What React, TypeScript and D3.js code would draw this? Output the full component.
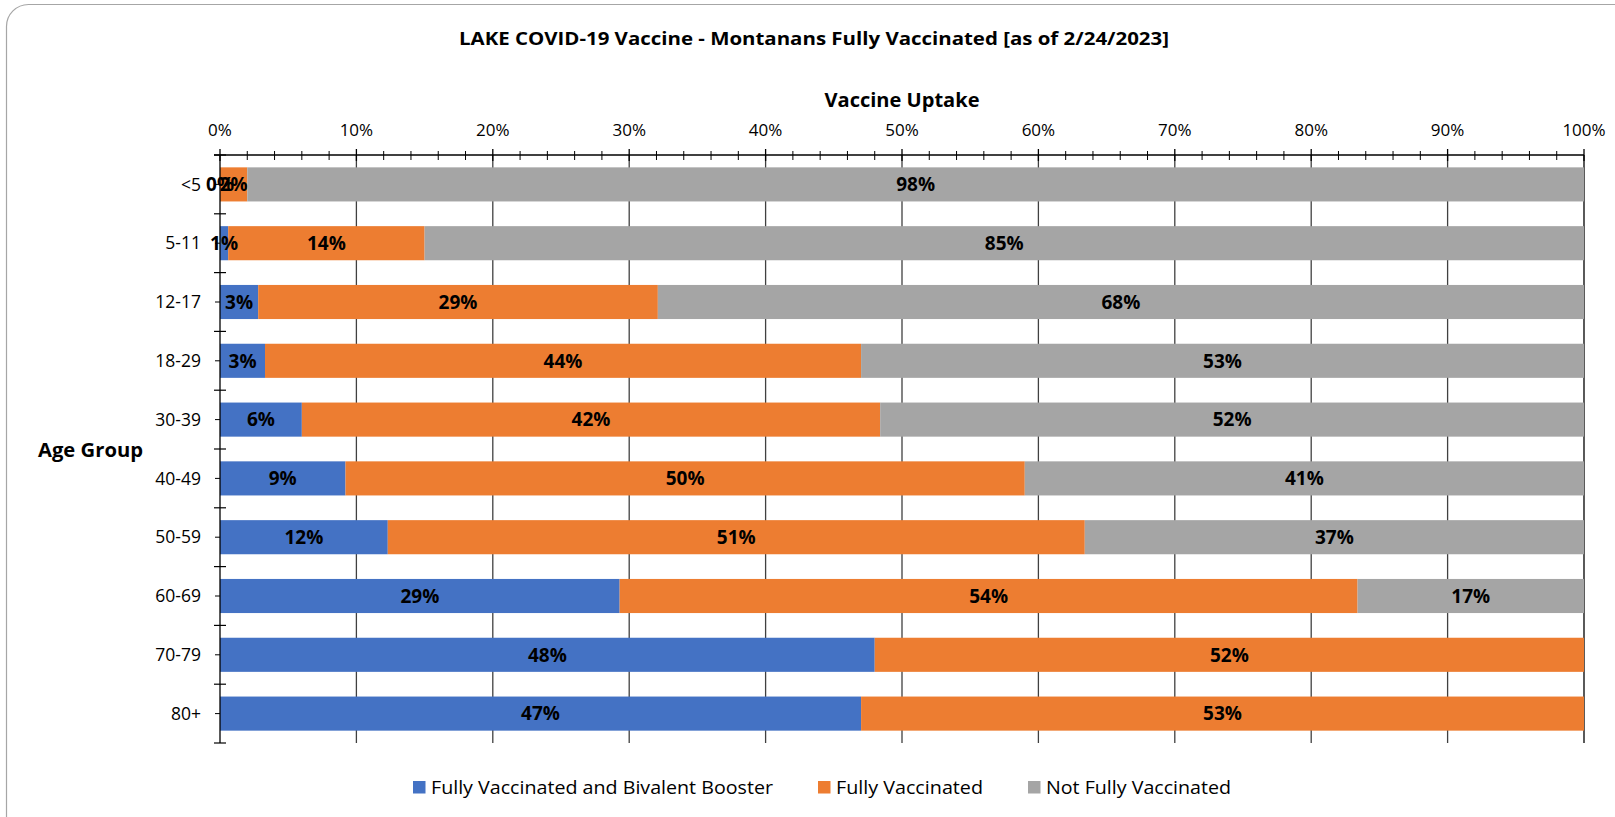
import React from "react";
import * as d3 from "d3";

const ageGroups = ["<5", "5-11", "12-17", "18-29", "30-39", "40-49", "50-59", "60-69", "70-79", "80+"];
const booster = [0.0, 0.6, 2.8, 3.3, 6.0, 9.2, 12.3, 29.3, 48.0, 47.0];
const fullyVax = [2.0, 14.4, 29.3, 43.7, 42.4, 49.8, 51.1, 54.1, 52.0, 53.0];
const notVax = [98.0, 85.0, 67.9, 53.0, 51.6, 41.0, 36.6, 16.6, 0, 0];
const seriesNames = ["Fully Vaccinated and Bivalent Booster", "Fully Vaccinated", "Not Fully Vaccinated"];
const seriesColors = ["#4472C4", "#ED7D31", "#A5A5A5"];
const xTicks = [0, 10, 20, 30, 40, 50, 60, 70, 80, 90, 100];

const W = 1615;
const H = 817;
const FONT = "'Open Sans', 'Noto Sans', sans-serif";

export default function App() {
    const x = d3.scaleLinear().domain([0, 100]).range([220, 1584]);
    const y = d3.scaleBand<string>().domain(ageGroups).range([155, 743]).paddingInner(0.42).paddingOuter(0.21);
    const step = y.step();
    const top = 155;
    const bottom = 743;

    const rows = ageGroups.map((g, i) => ({ group: g, booster: booster[i], fully: fullyVax[i], not: notVax[i] }));
    const stack = d3.stack<any>().keys(["booster", "fully", "not"]);
    const layers = stack(rows);

    const minorTicks = d3.range(0, 101, 2).filter((v) => v % 10 !== 0);
    const legendX = [413, 818, 1028];
    const legendW = [342, 147, 185];

    return (
        <svg width={W} height={H} style={{ position: "absolute", left: 0, top: 0, background: "#fff" }} fontFamily={FONT}>
            <rect x={6.5} y={4.5} width={1640} height={850} rx={22} fill="#fff" stroke="#a6a6a6" strokeWidth={1.2} />

            {/* title */}
            <text x={814} y={45} textAnchor="middle" fontSize={18} fontWeight="bold" textLength={710} lengthAdjust="spacingAndGlyphs">
                LAKE COVID-19 Vaccine - Montanans Fully Vaccinated [as of 2/24/2023]
            </text>
            <text x={902} y={107} textAnchor="middle" fontSize={19.5} fontWeight="bold" textLength={155} lengthAdjust="spacingAndGlyphs">
                Vaccine Uptake
            </text>
            <text x={38} y={457} fontSize={20} fontWeight="bold" textLength={105} lengthAdjust="spacingAndGlyphs">
                Age Group
            </text>

            {/* gridlines */}
            {xTicks.filter((t) => t > 0).map((t) => (
                <line key={t} x1={x(t)} x2={x(t)} y1={top} y2={bottom} stroke={t === 100 ? "#000" : "#404040"} strokeWidth={1.3} />
            ))}

            {/* bars */}
            {layers.map((layer, si) => (
                <g key={si}>
                    {layer.map((d, i) => (
                        <rect
                            key={i}
                            x={x(d[0])}
                            y={y(ageGroups[i])}
                            width={Math.max(0, x(d[1]) - x(d[0]))}
                            height={y.bandwidth()}
                            fill={seriesColors[si]}
                        />
                    ))}
                </g>
            ))}

            {/* top axis */}
            <line x1={214} x2={1584} y1={top} y2={top} stroke="#000" strokeWidth={1.3} />
            {xTicks.map((t) => (
                <g key={t}>
                    <line x1={x(t)} x2={x(t)} y1={top - 6} y2={top + 6} stroke="#000" strokeWidth={1.3} />
                    <text x={x(t)} y={136} textAnchor="middle" fontSize={17}>
                        {t}%
                    </text>
                </g>
            ))}
            {minorTicks.map((t) => (
                <line key={t} x1={x(t)} x2={x(t)} y1={top - 4} y2={top + 5} stroke="#000" strokeWidth={1} />
            ))}

            {/* left axis */}
            <line x1={220} x2={220} y1={top} y2={bottom} stroke="#000" strokeWidth={1.3} />
            {d3.range(0, ageGroups.length + 1).map((i) => (
                <line key={i} x1={214} x2={226} y1={top + i * step} y2={top + i * step} stroke="#000" strokeWidth={1.2} />
            ))}
            {ageGroups.map((g) => {
                const cy = (y(g) as number) + y.bandwidth() / 2;
                return (
                    <g key={g}>
                        <line x1={215} x2={220} y1={cy} y2={cy} stroke="#000" strokeWidth={1} />
                        <text x={201} y={cy} dy="0.35em" textAnchor="end" fontSize={17.5}>
                            {g}
                        </text>
                    </g>
                );
            })}

            {/* data labels */}
            {layers.map((layer, si) => (
                <g key={si}>
                    {layer.map((d, i) => {
                        const v = d[1] - d[0];
                        if (si === 2 && v <= 0) return null;
                        return (
                            <text
                                key={i}
                                x={(x(d[0]) + x(d[1])) / 2}
                                y={(y(ageGroups[i]) as number) + y.bandwidth() / 2}
                                dy="0.36em"
                                textAnchor="middle"
                                fontSize={19}
                                fontWeight="bold"
                            >
                                {Math.round(v)}%
                            </text>
                        );
                    })}
                </g>
            ))}

            {/* legend */}
            {seriesNames.map((name, i) => (
                <g key={name}>
                    <rect x={legendX[i]} y={781} width={12.5} height={12.5} fill={seriesColors[i]} />
                    <text x={legendX[i] + 18} y={787} dy="0.35em" fontSize={19} textLength={legendW[i]} lengthAdjust="spacingAndGlyphs">
                        {name}
                    </text>
                </g>
            ))}
        </svg>
    );
}
